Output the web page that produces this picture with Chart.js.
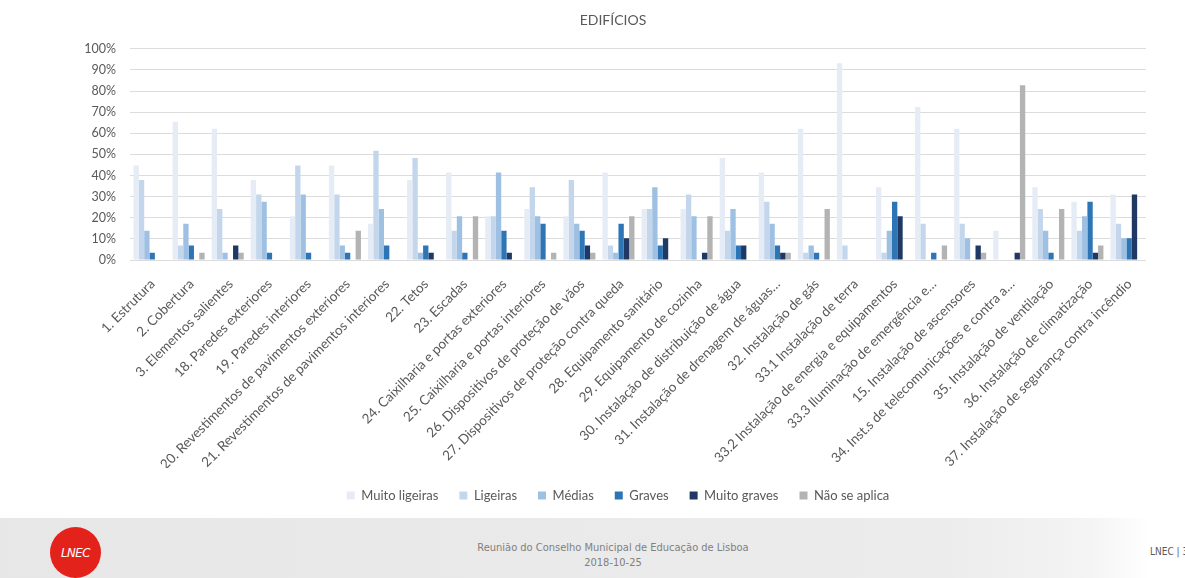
<!DOCTYPE html>
<html>
<head>
<meta charset="utf-8">
<script src="https://cdn.jsdelivr.net/npm/chart.js@4.4.1/dist/chart.umd.min.js"></script>
<style>
  html, body { margin: 0; padding: 0; background: #ffffff; width: 1185px; height: 578px; overflow: hidden; }
  #wrap { position: absolute; left: 0; top: 0; width: 1185px; height: 518px; }
  #footer { position: absolute; left: 0; top: 518px; width: 1185px; height: 60px;
    background: linear-gradient(to right, #e7e7e7 0%, #ececec 80%, #f4f4f4 92%, #ffffff 97%); }
  #logo { position: absolute; left: 50px; top: 9px; width: 51px; height: 51px; border-radius: 50%;
    background: #e3231b; color: #fff; font: italic 13px "Liberation Sans Narrow", "DejaVu Sans Condensed", sans-serif;
    text-align: center; line-height: 51px; letter-spacing: -0.5px; }
  #ftext { position: absolute; left: 413px; width: 400px; top: 22px; text-align: center; color: #808080;
    font: 11px "Liberation Sans Narrow", "DejaVu Sans Condensed", sans-serif; line-height: 15px; }
  #page { position: absolute; left: 1150px; top: 28px; color: #595959;
    font: 10px "Liberation Sans Narrow", "DejaVu Sans Condensed", sans-serif; white-space: nowrap; }
</style>
</head>
<body>
<div id="wrap"><canvas id="c" width="1185" height="518"></canvas></div>
<div id="footer">
  <div id="logo">LNEC</div>
  <div id="ftext">Reunião do Conselho Municipal de Educação de Lisboa<br>2018-10-25</div>
  <div id="page">LNEC | 35</div>
</div>
<script>
const categories = [
  "1. Estrutura", "2. Cobertura", "3. Elementos salientes", "18. Paredes exteriores",
  "19. Paredes interiores", "20. Revestimentos de pavimentos exteriores",
  "21. Revestimentos de pavimentos interiores", "22. Tetos", "23. Escadas",
  "24. Caixilharia e portas exteriores", "25. Caixilharia e portas interiores",
  "26. Dispositivos de proteção de vãos", "27. Dispositivos de proteção contra queda",
  "28. Equipamento sanitário", "29. Equipamento de cozinha",
  "30. Instalação de distribuição de água", "31. Instalação de drenagem de águas…",
  "32. Instalação de gás", "33.1 Instalação de terra",
  "33.2 Instalação de energia e equipamentos", "33.3 Iluminação de emergência e…",
  "15. Instalação de ascensores", "34. Inst.s de telecomunicações e contra a…",
  "35. Instalação de ventilação", "36. Instalação de climatização",
  "37. Instalação de segurança contra incêndio"
];
const seriesNames = ["Muito ligeiras", "Ligeiras", "Médias", "Graves", "Muito graves", "Não se aplica"];
const muitoLigeiras = [44.8, 65.5, 62.1, 37.9, 20.7, 44.8, 17.2, 37.9, 41.4, 20.7, 24.1, 20.7, 41.4, 24.1, 24.1, 48.3, 41.4, 62.1, 93.1, 34.5, 72.4, 62.1, 13.8, 34.5, 27.6, 31.0];
const ligeiras      = [37.9, 6.9, 24.1, 31.0, 44.8, 31.0, 51.7, 48.3, 13.8, 20.7, 34.5, 37.9, 6.9, 24.1, 31.0, 13.8, 27.6, 3.4, 6.9, 3.4, 17.2, 17.2, 0, 24.1, 13.8, 17.2];
const medias        = [13.8, 17.2, 3.4, 27.6, 31.0, 6.9, 24.1, 3.4, 20.7, 41.4, 20.7, 17.2, 3.4, 34.5, 20.7, 24.1, 17.2, 6.9, 0, 13.8, 0, 10.3, 0, 13.8, 20.7, 10.3];
const graves        = [3.4, 6.9, 0, 3.4, 3.4, 3.4, 6.9, 6.9, 3.4, 13.8, 17.2, 13.8, 17.2, 6.9, 0, 6.9, 6.9, 3.4, 0, 27.6, 3.4, 0, 0, 3.4, 27.6, 10.3];
const muitoGraves   = [0, 0, 6.9, 0, 0, 0, 0, 3.4, 0, 3.4, 0, 6.9, 10.3, 10.3, 3.4, 6.9, 3.4, 0, 0, 20.7, 0, 6.9, 3.4, 0, 3.4, 31.0];
const naoSeAplica   = [0, 3.4, 3.4, 0, 0, 13.8, 0, 0, 20.7, 0, 3.4, 3.4, 20.7, 0, 20.7, 0, 3.4, 24.1, 0, 0, 6.9, 3.4, 82.8, 24.1, 6.9, 0];
const yTicks = [0, 10, 20, 30, 40, 50, 60, 70, 80, 90, 100];

const colors = ["#e6ecf5", "#c3d6ec", "#9dc0e3", "#2e75b6", "#1f3864", "#b3b3b3"];
const values = [muitoLigeiras, ligeiras, medias, graves, muitoGraves, naoSeAplica];
const FONT = "Lato, 'Open Sans', sans-serif";
const txt = "#595959";

const shiftBlocks = {
  id: "shiftBlocks",
  afterLayout(chart) {
    const t = chart.titleBlock, l = chart.legend;
    if (t) { t.left += 40; t.right += 40; }
    if (l) { l.left += 45; l.right += 45; }
  }
};

new Chart(document.getElementById("c"), {
  type: "bar",
  data: {
    labels: categories,
    datasets: seriesNames.map((n, i) => ({
      label: n, data: values[i], backgroundColor: colors[i], borderWidth: 0,
      categoryPercentage: 0.82, barPercentage: 1.0
    }))
  },
  plugins: [shiftBlocks],
  options: {
    responsive: false,
    animation: false,
    layout: { padding: { left: 0, right: 39, top: 8, bottom: 6 } },
    plugins: {
      title: { display: true, text: "EDIFÍCIOS", color: txt,
        font: { family: FONT, size: 14, weight: "normal" }, padding: { top: 4, bottom: 20 } },
      legend: { position: "bottom",
        labels: { boxWidth: 8, boxHeight: 8, color: txt, padding: 21,
          font: { family: FONT, size: 13 } } },
      tooltip: { enabled: false }
    },
    scales: {
      x: {
        grid: { display: false }, border: { display: false },
        ticks: { color: txt, font: { family: FONT, size: 13.5 }, maxRotation: 45, minRotation: 45,
          autoSkip: false, padding: 8, labelOffset: 3 },
        afterFit: s => { s.height = 208; }
      },
      y: {
        min: 0, max: 100,
        afterBuildTicks: s => { s.ticks = yTicks.map(v => ({ value: v })); },
        grid: { color: "#dcdcdc", drawTicks: false }, border: { display: false },
        ticks: { color: txt, font: { family: FONT, size: 12.5 }, padding: 14, callback: v => v + "%" },
        afterFit: s => { s.width = 130; }
      }
    }
  }
});
</script>
</body>
</html>
